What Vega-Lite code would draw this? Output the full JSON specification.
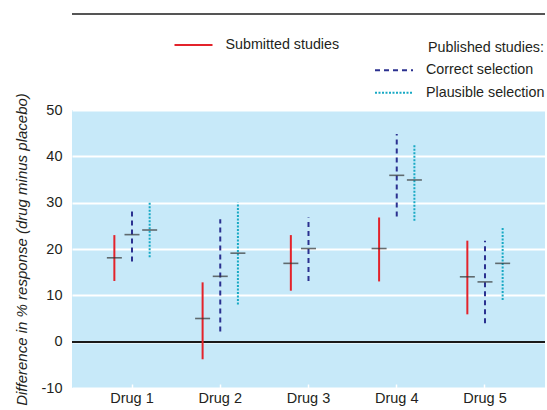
{
  "$schema": "https://vega.github.io/schema/vega-lite/v6.json",
  "autosize": {"type": "none"},
  "width": 473,
  "height": 278,
  "padding": {"left": 72, "top": 110, "right": 2, "bottom": 22},
  "background": "white",
  "config": {
    "font": "Liberation Sans",
    "view": {"fill": "#c7e9f9", "stroke": null},
    "axis": {
      "labelFont": "Liberation Sans",
      "labelFontSize": 14.5,
      "labelColor": "#231f20",
      "domain": false,
      "titleFont": "Liberation Sans",
      "titleColor": "#231f20"
    },
    "axisX": {
      "grid": false,
      "ticks": true,
      "tickColor": "white",
      "tickSize": -4,
      "tickWidth": 1.5,
      "labelAngle": 0,
      "labelPadding": 7
    },
    "axisY": {
      "grid": true,
      "gridColor": "white",
      "gridWidth": 2,
      "ticks": false,
      "labelPadding": 10,
      "tickCount": 7,
      "labelExpr": "'' + datum.value",
      "titleFontStyle": "italic",
      "titleFontWeight": "normal",
      "titleFontSize": 15,
      "titlePadding": 12
    },
    "legend": {
      "labelFont": "Liberation Sans",
      "labelFontSize": 14.3,
      "labelColor": "#231f20",
      "titleFont": "Liberation Sans",
      "titleFontSize": 14.3,
      "titleFontWeight": "normal",
      "titleColor": "#231f20",
      "padding": 0
    }
  },
  "data": {
    "values": [
      {"drug": "Drug 1", "series": "Submitted studies", "low": 13.1, "high": 23.0, "est": 18.1},
      {"drug": "Drug 1", "series": "Correct selection", "low": 17.3, "high": 28.7, "est": 23.1},
      {"drug": "Drug 1", "series": "Plausible selection", "low": 18.2, "high": 30.0, "est": 24.1},
      {"drug": "Drug 2", "series": "Submitted studies", "low": -3.8, "high": 12.8, "est": 5.0},
      {"drug": "Drug 2", "series": "Correct selection", "low": 2.2, "high": 26.4, "est": 14.1},
      {"drug": "Drug 2", "series": "Plausible selection", "low": 8.0, "high": 30.0, "est": 19.1},
      {"drug": "Drug 3", "series": "Submitted studies", "low": 11.0, "high": 23.0, "est": 16.9},
      {"drug": "Drug 3", "series": "Correct selection", "low": 13.1, "high": 26.8, "est": 20.1},
      {"drug": "Drug 4", "series": "Submitted studies", "low": 13.0, "high": 26.8, "est": 20.1},
      {"drug": "Drug 4", "series": "Correct selection", "low": 27.0, "high": 44.8, "est": 35.9},
      {"drug": "Drug 4", "series": "Plausible selection", "low": 26.1, "high": 42.6, "est": 34.9},
      {"drug": "Drug 5", "series": "Submitted studies", "low": 5.9, "high": 21.8, "est": 14.0},
      {"drug": "Drug 5", "series": "Correct selection", "low": 4.0, "high": 21.8, "est": 12.9},
      {"drug": "Drug 5", "series": "Plausible selection", "low": 9.0, "high": 24.6, "est": 16.9}
    ]
  },
  "layer": [
    {
      "mark": {"type": "rule", "color": "#1a1a1a", "strokeWidth": 1.5},
      "encoding": {
        "y": {"datum": 0, "type": "quantitative", "title": "Difference in % response (drug minus placebo)", "scale": {"domain": [-10, 50], "nice": false}}
      }
    },
    {
      "mark": {"type": "rule", "color": "#555555", "strokeWidth": 2, "clip": false},
      "encoding": {
        "y": {"datum": 70.7, "type": "quantitative", "title": "Difference in % response (drug minus placebo)"}
      }
    },
    {
      "transform": [{"filter": "datum.series === 'Submitted studies'"}],
      "mark": {"type": "rule", "strokeWidth": 2},
      "encoding": {
        "x": {"field": "drug", "type": "nominal", "title": null, "scale": {"paddingInner": 0, "paddingOuter": 0.18}},
        "xOffset": {"field": "series", "type": "nominal", "scale": {"domain": ["Submitted studies", "Correct selection", "Plausible selection"], "paddingInner": 0, "paddingOuter": 1.36}},
        "y": {"field": "low", "type": "quantitative", "title": "Difference in % response (drug minus placebo)"},
        "y2": {"field": "high"},
        "color": {
          "field": "series",
          "type": "nominal",
          "scale": {"domain": ["Submitted studies"], "range": ["#e3232b"]},
          "legend": {
            "orient": "none", "legendX": 101.5, "legendY": -76, "title": null,
            "symbolType": "stroke", "symbolSize": 1444, "symbolStrokeWidth": 2,
            "clipHeight": 22, "labelOffset": 12
          }
        }
      }
    },
    {
      "transform": [{"filter": "datum.series !== 'Submitted studies'"}],
      "mark": {"type": "rule", "strokeWidth": 2},
      "encoding": {
        "x": {"field": "drug", "type": "nominal", "title": null},
        "xOffset": {"field": "series", "type": "nominal"},
        "y": {"field": "low", "type": "quantitative", "title": "Difference in % response (drug minus placebo)"},
        "y2": {"field": "high"},
        "stroke": {
          "field": "series",
          "type": "nominal",
          "scale": {"domain": ["Correct selection", "Plausible selection"], "range": ["#2b3190", "#17a9c4"]},
          "legend": {
            "orient": "none", "legendX": 302, "legendY": -69, "title": "Published studies:",
            "titleAnchor": "end", "titlePadding": 4,
            "symbolType": "stroke", "symbolSize": 1444, "symbolStrokeWidth": 2,
            "clipHeight": 22, "rowPadding": 0.5, "labelOffset": 12
          }
        },
        "strokeDash": {
          "field": "series",
          "type": "nominal",
          "scale": {"domain": ["Correct selection", "Plausible selection"], "range": [[5, 4], [2, 1.5]]},
          "legend": {
            "orient": "none", "legendX": 302, "legendY": -69, "title": "Published studies:",
            "titleAnchor": "end", "titlePadding": 4,
            "symbolType": "stroke", "symbolSize": 1444, "symbolStrokeWidth": 2,
            "clipHeight": 22, "rowPadding": 0.5, "labelOffset": 12
          }
        }
      }
    },
    {
      "mark": {"type": "tick", "color": "#333333", "size": 15, "thickness": 1.6},
      "encoding": {
        "x": {"field": "drug", "type": "nominal", "title": null},
        "xOffset": {"field": "series", "type": "nominal"},
        "y": {"field": "est", "type": "quantitative", "title": "Difference in % response (drug minus placebo)"}
      }
    }
  ]
}
